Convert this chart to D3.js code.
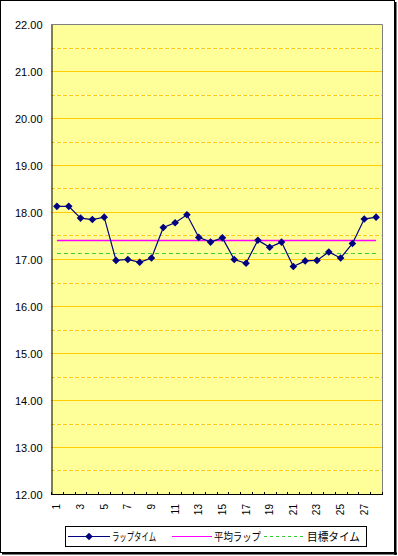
<!DOCTYPE html>
<html>
<head>
<meta charset="utf-8">
<script src="https://cdn.jsdelivr.net/npm/d3@7"></script>
<style>
  body { margin: 0; background: #fff; }
</style>
</head>
<body>
<div class="container"></div>
<script>
let width = 398
let height = 556

// lap number, lap time, average line, target line
let laps = [1, 2, 3, 4, 5, 6, 7, 8, 9, 10, 11, 12, 13, 14, 15, 16, 17, 18, 19, 20, 21, 22, 23, 24, 25, 26, 27, 28]
let lapTimes = [18.12, 18.12, 17.87, 17.84, 17.89, 16.97, 16.99, 16.93, 17.02, 17.67, 17.77, 17.94, 17.46, 17.36,
  17.45, 16.99, 16.91, 17.40, 17.25, 17.36, 16.84, 16.96, 16.97, 17.15, 17.02, 17.33, 17.85, 17.89]
let avgLap = [17.40, 17.40, 17.40, 17.40, 17.40, 17.40, 17.40, 17.40, 17.40, 17.40, 17.40, 17.40, 17.40, 17.40,
  17.40, 17.40, 17.40, 17.40, 17.40, 17.40, 17.40, 17.40, 17.40, 17.40, 17.40, 17.40, 17.40, 17.40]
let targetLap = [17.13, 17.13, 17.13, 17.13, 17.13, 17.13, 17.13, 17.13, 17.13, 17.13, 17.13, 17.13, 17.13, 17.13,
  17.13, 17.13, 17.13, 17.13, 17.13, 17.13, 17.13, 17.13, 17.13, 17.13, 17.13, 17.13, 17.13, 17.13]
let majorTicks = [12, 13, 14, 15, 16, 17, 18, 19, 20, 21, 22]
let minorTicks = [12.5, 13.5, 14.5, 15.5, 16.5, 17.5, 18.5, 19.5, 20.5, 21.5]
let xLabels = [1, 3, 5, 7, 9, 11, 13, 15, 17, 19, 21, 23, 25, 27]
let legendNames = ["ラップタイム", "平均ラップ", "目標タイム"]

let plot = { left: 51, right: 382, top: 24, bottom: 494 }

let svg = d3.select(".container")
  .append("svg")
  .attr("width", width)
  .attr("height", height)

// chart area frame
svg.append("rect")
  .attr("x", 0.5).attr("y", 0.5)
  .attr("width", 394).attr("height", 552)
  .attr("fill", "#fff")
  .attr("stroke", "#000")
svg.append("line")
  .attr("x1", 395.5).attr("x2", 395.5).attr("y1", 2).attr("y2", 555)
  .attr("stroke", "#000").attr("stroke-width", 2)
svg.append("line")
  .attr("x1", 2).attr("x2", 397).attr("y1", 553.5).attr("y2", 553.5)
  .attr("stroke", "#000").attr("stroke-width", 2)

let x = d3.scalePoint()
  .domain(laps)
  .range([plot.left, plot.right])
  .padding(0.5)

let y = d3.scaleLinear()
  .domain([12, 22])
  .range([plot.bottom, plot.top])

// plot area
svg.append("rect")
  .attr("x", plot.left).attr("y", plot.top)
  .attr("width", plot.right - plot.left)
  .attr("height", plot.bottom - plot.top)
  .attr("fill", "#ffff99")

// minor gridlines: white under gold dashes
svg.selectAll(".minorBase")
  .data(minorTicks)
  .enter()
  .append("line")
  .attr("class", "minorBase")
  .attr("x1", plot.left).attr("x2", plot.right)
  .attr("y1", d => Math.round(y(d)) + 0.5)
  .attr("y2", d => Math.round(y(d)) + 0.5)
  .attr("stroke", "#fff")
svg.selectAll(".minorGrid")
  .data(minorTicks)
  .enter()
  .append("line")
  .attr("class", "minorGrid")
  .attr("x1", plot.left).attr("x2", plot.right)
  .attr("y1", d => Math.round(y(d)) + 0.5)
  .attr("y2", d => Math.round(y(d)) + 0.5)
  .attr("stroke", "#ffcc00")
  .attr("stroke-dasharray", "4,2")

svg.selectAll(".majorGrid")
  .data(majorTicks.slice(1, -1))
  .enter()
  .append("line")
  .attr("class", "majorGrid")
  .attr("x1", plot.left).attr("x2", plot.right)
  .attr("y1", d => Math.round(y(d)) + 0.5)
  .attr("y2", d => Math.round(y(d)) + 0.5)
  .attr("stroke", "#ffcc00")

// plot border top / right
svg.append("path")
  .attr("d", `M${plot.left},${plot.top + 0.5}H${plot.right + 0.5}V${plot.bottom}`)
  .attr("fill", "none")
  .attr("stroke", "#808080")

// y axis
let yAxis = d3.axisLeft(y)
  .tickValues(majorTicks)
  .tickFormat(d3.format(".2f"))
  .tickSize(0)
  .tickPadding(9)

svg.append("g")
  .attr("transform", `translate(${plot.left + 0.5},0.5)`)
  .call(yAxis)
  .call(g => g.select(".domain").attr("stroke", "#000"))
  .selectAll("text")
  .attr("font-family", "'Liberation Sans', Arial, sans-serif")
  .attr("font-size", "11px")
  .attr("fill", "#000")

// x axis line + inside ticks at category boundaries
let step = x.step()
svg.append("line")
  .attr("x1", plot.left).attr("x2", plot.right + 1)
  .attr("y1", plot.bottom + 0.5).attr("y2", plot.bottom + 0.5)
  .attr("stroke", "#000")
svg.selectAll(".xTick")
  .data(laps.concat([laps.length + 1]))
  .enter()
  .append("line")
  .attr("class", "xTick")
  .attr("x1", d => Math.round(x(1) + (d - 1.5) * step) + 0.5)
  .attr("x2", d => Math.round(x(1) + (d - 1.5) * step) + 0.5)
  .attr("y1", plot.bottom - 2).attr("y2", plot.bottom)
  .attr("stroke", "#000")

svg.selectAll(".xLabel")
  .data(xLabels)
  .enter()
  .append("text")
  .attr("class", "xLabel")
  .attr("transform", d => `translate(${x(d) + 3.5},504) rotate(-90)`)
  .attr("text-anchor", "end")
  .attr("font-family", "'Liberation Sans', Arial, sans-serif")
  .attr("font-size", "10px")
  .text(d => d)

// target line (dashed green)
let line = d3.line()
  .x((d, i) => x(laps[i]))
  .y(d => Math.round(y(d)) + 0.5)

svg.append("path")
  .datum(targetLap)
  .attr("d", line)
  .attr("fill", "none")
  .attr("stroke", "#33cc33")
  .attr("stroke-dasharray", "4,3")

// average line (magenta)
svg.append("path")
  .datum(avgLap)
  .attr("d", line)
  .attr("fill", "none")
  .attr("stroke", "#ff00ff")
  .attr("stroke-width", 1.3)

// lap times
svg.append("path")
  .datum(lapTimes)
  .attr("d", d3.line().x((d, i) => x(laps[i])).y(d => y(d)))
  .attr("fill", "none")
  .attr("stroke", "#000080")
  .attr("stroke-width", 1.2)

let diamond = "M0,-3.8L3.8,0L0,3.8L-3.8,0Z"
svg.selectAll(".lapPoint")
  .data(lapTimes)
  .enter()
  .append("path")
  .attr("class", "lapPoint")
  .attr("d", diamond)
  .attr("transform", (d, i) => `translate(${x(laps[i])},${y(d)})`)
  .attr("fill", "#000080")

// legend
svg.append("rect")
  .attr("x", 65.5).attr("y", 526.5)
  .attr("width", 301).attr("height", 20)
  .attr("fill", "#fff")
  .attr("stroke", "#000")

let legendItems = [
  { x1: 68, x2: 110, tx: 112, tw: 44, color: "#000080", dash: null, marker: true },
  { x1: 172, x2: 212, tx: 214, tw: 47, color: "#ff00ff", dash: null, marker: false },
  { x1: 264, x2: 305, tx: 307, tw: 53, color: "#33cc33", dash: "3,3", marker: false }
]
legendItems.forEach(function(item, i) {
  svg.append("line")
    .attr("x1", item.x1).attr("x2", item.x2)
    .attr("y1", 536.5).attr("y2", 536.5)
    .attr("stroke", item.color)
    .attr("stroke-dasharray", item.dash)
  if (item.marker) {
    svg.append("path")
      .attr("d", diamond)
      .attr("transform", `translate(${(item.x1 + item.x2) / 2},536.5)`)
      .attr("fill", item.color)
  }
  svg.append("text")
    .attr("x", item.tx)
    .attr("y", 541)
    .attr("font-family", "'Noto Sans CJK JP', sans-serif")
    .attr("font-size", "11px")
    .attr("textLength", item.tw)
    .attr("lengthAdjust", "spacingAndGlyphs")
    .text(legendNames[i])
})
</script>
</body>
</html>
